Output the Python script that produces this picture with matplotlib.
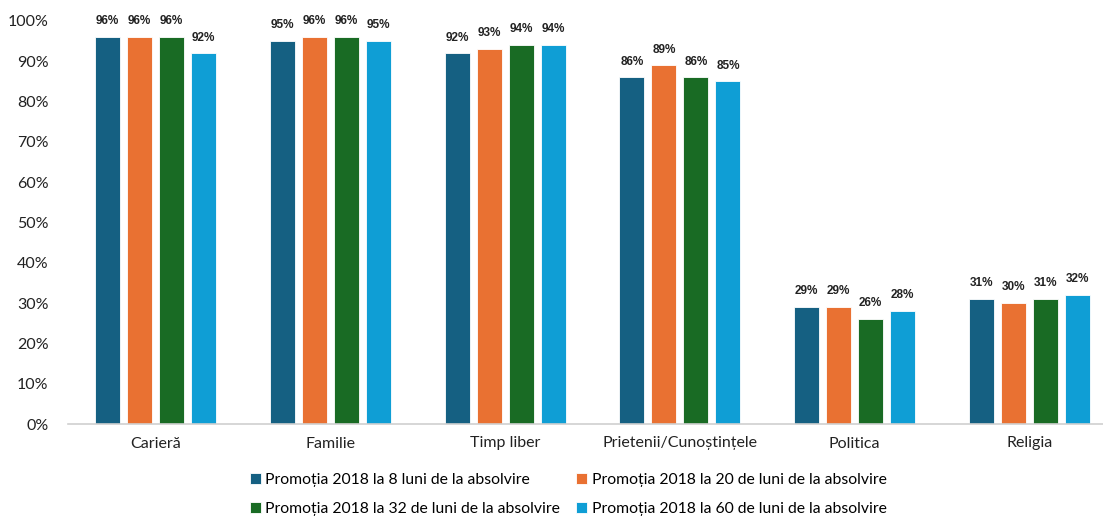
import matplotlib.pyplot as plt
import numpy as np

plt.rcParams['font.family'] = ['Lato', 'DejaVu Sans']

categories = ['Carieră', 'Familie', 'Timp liber', 'Prietenii/Cunoștințele', 'Politica', 'Religia']
series_names = [
    'Promoția 2018 la 8 luni de la absolvire',
    'Promoția 2018 la 20 de luni de la absolvire',
    'Promoția 2018 la 32 de luni de la absolvire',
    'Promoția 2018 la 60 de luni de la absolvire',
]
luni_8 = [96, 95, 92, 86, 29, 31]
luni_20 = [96, 96, 93, 89, 29, 30]
luni_32 = [96, 96, 94, 86, 26, 31]
luni_60 = [92, 95, 94, 85, 28, 32]
values = [luni_8, luni_20, luni_32, luni_60]
colors = ['#156082', '#E97132', '#196B24', '#0F9ED5']

fig = plt.figure(figsize=(11.03, 5.21), dpi=100)
ax = fig.add_axes([68 / 1103, 1 - 424 / 521, 1 - 68 / 1103, (424 - 21) / 521])

x = np.arange(len(categories))
step = 0.183
width = 0.143
handles = []
for i, (vals, col, name) in enumerate(zip(values, colors, series_names)):
    pos = x + (i - 1.5) * step
    bars = ax.bar(pos, [v / 100 for v in vals], width, color=col, label=name,
                  edgecolor='white', linewidth=0.6)
    handles.append(bars)
    for b, v in zip(bars, vals):
        ax.annotate(f'{v}%', (b.get_x() + b.get_width() / 2, b.get_height()),
                    xytext=(0, 7), textcoords='offset points', ha='center', va='bottom',
                    fontsize=8.5, fontweight='bold', color='#222222', annotation_clip=False,
                    family=['Liberation Sans', 'DejaVu Sans'])

ax.set_ylim(0, 1.0)
ax.set_xlim(-0.5, 5.42)
ax.set_yticks(np.arange(0, 1.01, 0.1))
ax.set_yticklabels([f'{int(round(t * 100))}%' for t in np.arange(0, 1.01, 0.1)])
ax.set_xticks(x)
ax.set_xticklabels(categories)
ax.tick_params(axis='both', length=0, labelsize=11.5, colors='#222222')
ax.tick_params(axis='y', pad=14)
ax.tick_params(axis='x', pad=9)
for s in ['top', 'right', 'left']:
    ax.spines[s].set_visible(False)
ax.spines['bottom'].set_color('#d0d0d0')
ax.spines['bottom'].set_linewidth(1.2)

# legend fills column-wise, so reorder to get 8/20 on row one, 32/60 on row two
order = [0, 2, 1, 3]
fig.legend([handles[k] for k in order], [series_names[k] for k in order],
           loc='lower center', bbox_to_anchor=(0.515, -0.018), ncol=2, frameon=False,
           fontsize=11.3, handlelength=0.7, handleheight=0.7, handletextpad=0.3,
           columnspacing=1.0, labelspacing=1.0)

fig.savefig('out.png', dpi=100)
